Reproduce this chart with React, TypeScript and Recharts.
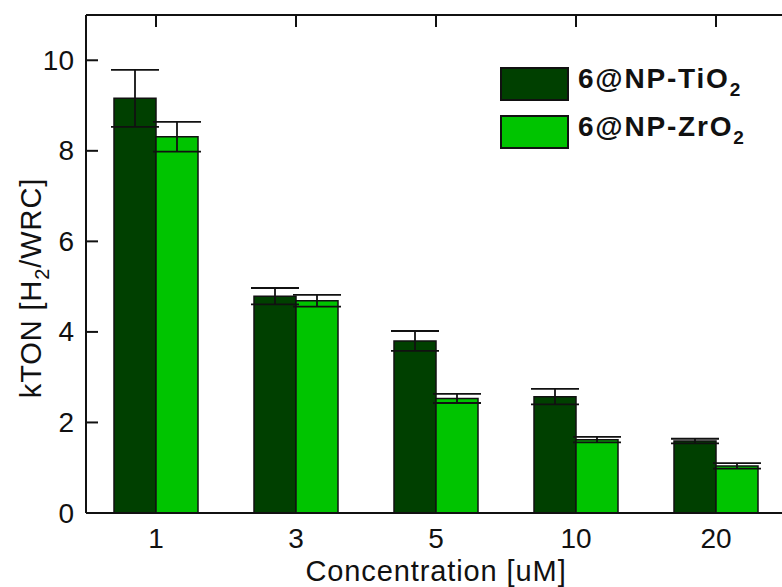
import { BarChart, Bar, XAxis, YAxis, ErrorBar, Legend } from 'recharts';

const concentrations = ['1', '3', '5', '10', '20'];
const tio2 = [9.16, 4.79, 3.8, 2.57, 1.59];
const tio2Err = [0.63, 0.18, 0.22, 0.17, 0.05];
const zro2 = [8.31, 4.69, 2.53, 1.62, 1.04];
const zro2Err = [0.33, 0.13, 0.1, 0.06, 0.06];
const yMajor = [0, 2, 4, 6, 8, 10];
const yMinor = [1, 3, 5, 7, 9];
const xMajor = [0.5, 1.5, 2.5, 3.5, 4.5];

const FONT = '"Liberation Sans", Arial, sans-serif';
const INK = '#111';

const data = concentrations.map((c, i) => ({
  conc: c,
  pos: i + 0.5,
  tio2: tio2[i],
  tio2Err: tio2Err[i],
  zro2: zro2[i],
  zro2Err: zro2Err[i],
}));

function YTick({ x, y, payload }: any) {
  return (
    <text x={x - 24} y={y} dy="0.34em" textAnchor="end" fontSize={28} fill={INK} fontFamily={FONT}>
      {payload.value}
    </text>
  );
}

function XTick({ x, y, payload }: any) {
  return (
    <text x={x} y={y + 35} textAnchor="middle" fontSize={28} fill={INK} fontFamily={FONT}>
      {payload.value}
    </text>
  );
}

function NoTick() {
  return <g />;
}

function XTitle({ viewBox }: any) {
  const cx = viewBox ? viewBox.x + viewBox.width / 2 : 436;
  return (
    <text x={cx} y={581} textAnchor="middle" fontSize={29} letterSpacing={0.9} fill={INK} fontFamily={FONT}>
      Concentration [uM]
    </text>
  );
}

function YTitle() {
  return (
    <text transform="translate(41,288) rotate(-90)" textAnchor="middle" fontSize={29} letterSpacing={0.9} fill={INK} fontFamily={FONT}>
      kTON [H<tspan fontSize={20} dy={8}>2</tspan>
      <tspan dy={-8}>/WRC]</tspan>
    </text>
  );
}

function LegendBox({ payload }: any) {
  return (
    <div style={{ display: 'flex', flexDirection: 'column', gap: 14 }}>
      {(payload || []).map((p: any) => (
        <div key={p.value} style={{ display: 'flex', alignItems: 'center', height: 34 }}>
          <div style={{ width: 69, height: 34, boxSizing: 'border-box', border: `2px solid ${INK}`, background: p.color }} />
          <span style={{ marginLeft: 9, fontFamily: FONT, fontWeight: 'bold', fontSize: 28, letterSpacing: 1.8, color: INK, lineHeight: '34px', whiteSpace: 'nowrap' }}>
            {p.value.slice(0, -1)}
            <sub style={{ fontSize: 19, verticalAlign: '-8px' }}>{p.value.slice(-1)}</sub>
          </span>
        </div>
      ))}
    </div>
  );
}

export default function App() {
  return (
    <div style={{ position: 'fixed', left: 0, top: 0, width: 782, height: 587, overflow: 'hidden', background: '#fff' }}>
      <BarChart
        width={790}
        height={587}
        data={data}
        margin={{ top: 15, right: 4, bottom: 0, left: 86 }}
        barCategoryGap="20%"
        barGap={0}
      >
        <XAxis
          xAxisId="c"
          dataKey="conc"
          height={74}
          axisLine={{ stroke: INK, strokeWidth: 2 }}
          tickLine={false}
          tickSize={0}
          tickMargin={0}
          tick={<XTick />}
          label={<XTitle />}
        />
        <XAxis
          xAxisId="mt"
          dataKey="pos"
          type="number"
          orientation="top"
          mirror
          domain={[0, 5]}
          ticks={xMajor}
          axisLine={{ stroke: INK, strokeWidth: 2 }}
          tickLine={{ stroke: INK, strokeWidth: 2 }}
          tickSize={12}
          tick={<NoTick />}
        />
        <YAxis
          yAxisId="y"
          mirror
          domain={[0, 11]}
          ticks={yMajor}
          interval={0}
          axisLine={{ stroke: INK, strokeWidth: 2 }}
          tickLine={{ stroke: INK, strokeWidth: 2 }}
          tickSize={12}
          tickMargin={0}
          tick={<YTick />}
          label={<YTitle />}
        />
        <YAxis
          yAxisId="ym"
          mirror
          domain={[0, 11]}
          ticks={yMinor}
          interval={0}
          axisLine={false}
          tickLine={{ stroke: INK, strokeWidth: 2 }}
          tickSize={6}
          tick={<NoTick />}
        />
        <YAxis
          yAxisId="r"
          orientation="right"
          mirror
          domain={[0, 11]}
          ticks={yMajor}
          interval={0}
          axisLine={{ stroke: INK, strokeWidth: 2 }}
          tickLine={{ stroke: INK, strokeWidth: 2 }}
          tickSize={12}
          tick={<NoTick />}
        />
        <Legend
          layout="horizontal"
          verticalAlign="middle"
          align="center"
          wrapperStyle={{ top: 67, left: 500, width: 'auto', height: 'auto' }}
          content={<LegendBox />}
        />
        <Bar
          xAxisId="c"
          yAxisId="y"
          dataKey="tio2"
          name="6@NP-TiO2"
          fill="#004000"
          stroke={INK}
          strokeWidth={1.5}
          isAnimationActive={false}
        >
          <ErrorBar dataKey="tio2Err" direction="y" width={24} stroke={INK} strokeWidth={1.8} isAnimationActive={false} />
        </Bar>
        <Bar
          xAxisId="c"
          yAxisId="y"
          dataKey="zro2"
          name="6@NP-ZrO2"
          fill="#00c400"
          stroke={INK}
          strokeWidth={1.5}
          isAnimationActive={false}
        >
          <ErrorBar dataKey="zro2Err" direction="y" width={24} stroke={INK} strokeWidth={1.8} isAnimationActive={false} />
        </Bar>
      </BarChart>
    </div>
  );
}
